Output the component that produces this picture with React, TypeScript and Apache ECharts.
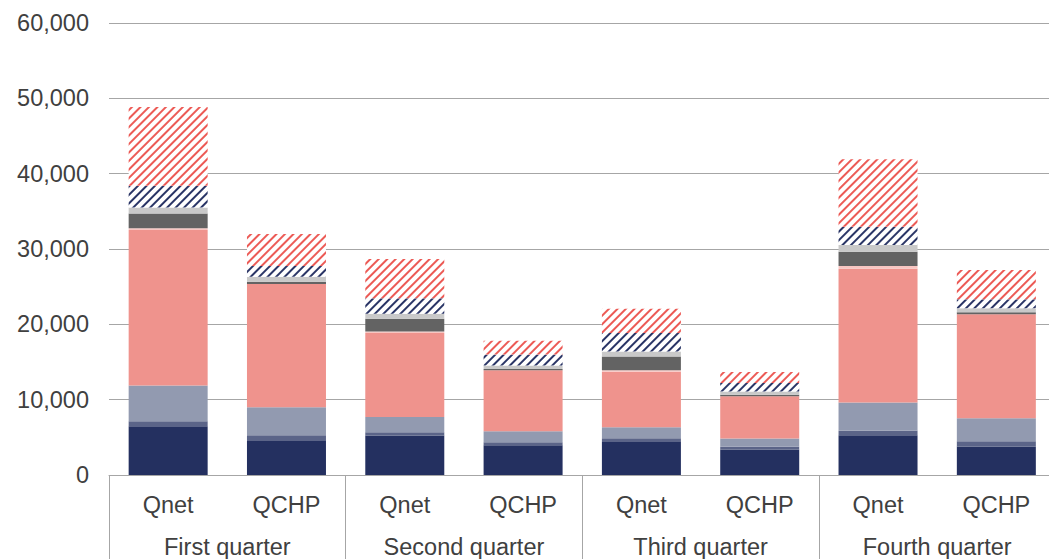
import React, { useEffect, useRef } from "react";
import * as echarts from "echarts";

const barLabels = ["Qnet", "QCHP", "Qnet", "QCHP", "Qnet", "QCHP", "Qnet", "QCHP"];
const quarterLabels = ["First quarter", "Second quarter", "Third quarter", "Fourth quarter"];

const navy = [6460, 4610, 5230, 3950, 4480, 3380, 5270, 3770];
const medSlate = [660, 660, 440, 400, 400, 360, 620, 700];
const lightSlate = [4770, 3710, 2040, 1460, 1460, 1100, 3750, 3050];
const salmon = [20620, 16380, 11130, 8080, 7380, 5600, 17750, 13830];
const pink = [260, 0, 210, 0, 170, 0, 360, 0];
const darkGray = [1950, 300, 1680, 190, 1850, 220, 1890, 260];
const lightGray = [790, 660, 660, 440, 660, 440, 890, 530];
const navyHatch = [2870, 1420, 2080, 1460, 2440, 1110, 2420, 1190];
const redHatch = [10460, 4240, 5210, 1850, 3220, 1460, 8970, 3880];

const FONT = "'Liberation Sans', Arial, sans-serif";
const TEXT = "#404040";
const GRID = "#a6a6a6";

function solid(name: string, data: number[], color: string) {
  return {
    name,
    type: "bar",
    stack: "total",
    barWidth: 79,
    data,
    itemStyle: { color },
  };
}

function hatched(name: string, data: number[], color: string) {
  return {
    name,
    type: "bar",
    stack: "total",
    barWidth: 79,
    data,
    itemStyle: {
      color: "#ffffff",
      decal: {
        symbol: "rect",
        symbolSize: 1,
        color,
        dashArrayX: [1, 0],
        dashArrayY: [1.6, 3.6],
        rotation: -Math.PI / 4,
      },
    },
  };
}

export default function App() {
  const ref = useRef<HTMLDivElement>(null);
  useEffect(() => {
    if (!ref.current) return;
    const chart = echarts.init(ref.current, undefined, { renderer: "svg" });
    chart.setOption({
      animation: false,
      backgroundColor: "#ffffff",
      grid: { left: 109, right: 0.5, top: 23, bottom: 84 },
      xAxis: [
        {
          type: "category",
          data: barLabels,
          axisLine: { show: true, lineStyle: { color: GRID, width: 1 } },
          axisTick: { show: false },
          axisLabel: {
            interval: 0,
            margin: 18,
            color: TEXT,
            fontSize: 23.5,
            fontFamily: FONT,
          },
        },
        {
          type: "category",
          data: quarterLabels,
          position: "bottom",
          axisLine: { show: false },
          axisTick: { show: true, length: 90, lineStyle: { color: GRID, width: 1 } },
          axisLabel: {
            interval: 0,
            margin: 60,
            color: TEXT,
            fontSize: 23.5,
            fontFamily: FONT,
          },
        },
      ],
      yAxis: {
        type: "value",
        min: 0,
        max: 60000,
        interval: 10000,
        axisLine: { show: false },
        axisTick: { show: false },
        splitLine: { lineStyle: { color: GRID, width: 1 } },
        axisLabel: { margin: 20, color: TEXT, fontSize: 23.5, fontFamily: FONT },
      },
      series: [
        solid("A", navy, "#243060"),
        solid("B", medSlate, "#5b6488"),
        solid("C", lightSlate, "#929ab0"),
        solid("D", salmon, "#ef938d"),
        solid("E", pink, "#f8c6c2"),
        solid("F", darkGray, "#636363"),
        solid("G", lightGray, "#c9c9c9"),
        hatched("H", navyHatch, "#2a3566"),
        hatched("I", redHatch, "#ec5a55"),
      ],
    });
    return () => chart.dispose();
  }, []);
  return (
    <div
      style={{
        position: "fixed",
        left: 0,
        top: 0,
        width: 1049,
        height: 559,
        overflow: "hidden",
        background: "#fff",
      }}
    >
      <div ref={ref} style={{ width: 1056, height: 559 }} />
    </div>
  );
}
